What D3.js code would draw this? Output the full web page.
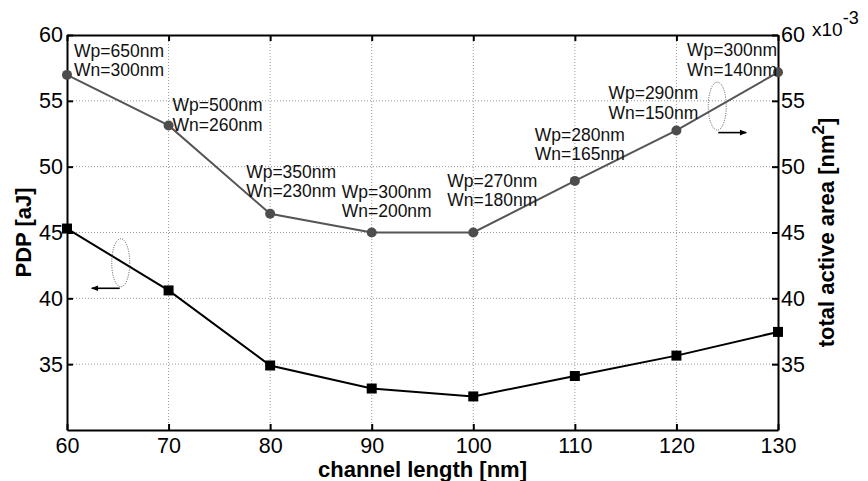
<!DOCTYPE html>
<html><head><meta charset="utf-8">
<script src="https://cdn.jsdelivr.net/npm/d3@7"></script>
<style>
body{margin:0;background:#fff;}
text{font-family:"Liberation Sans",Arial,sans-serif;}
</style></head>
<body><svg id="chart" width="868" height="481"></svg>
<script>
const channelLength = [60, 70, 80, 90, 100, 110, 120, 130];
const pdp = [45.3, 40.6, 34.9, 33.15, 32.55, 34.1, 35.65, 37.45];
const area = [56.97, 53.13, 46.42, 45.0, 45.0, 48.92, 52.75, 57.17]; // x10^-3 nm^2
const wpLabels = ["Wp=650nm","Wp=500nm","Wp=350nm","Wp=300nm","Wp=270nm","Wp=280nm","Wp=290nm","Wp=300nm"];
const wnLabels = ["Wn=300nm","Wn=260nm","Wn=230nm","Wn=200nm","Wn=180nm","Wn=165nm","Wn=150nm","Wn=140nm"];
const xTicks = [60, 70, 80, 90, 100, 110, 120, 130];
const yTicks = [35, 40, 45, 50, 55, 60];
// label offsets relative to each area point (px)
const labelOffsets = [[7,-18],[4,-14],[-24,-36],[-30,-35],[-26,-46],[-40,-40],[-68,-31],[-91,-16]];

const svg = d3.select("#chart");
const m = {left:67, right:778, top:35, bottom:430};
const x = d3.scaleLinear().domain([60,130]).range([m.left, m.right]);
const yL = d3.scaleLinear().domain([30,60]).range([m.bottom, m.top]);
const yR = d3.scaleLinear().domain([30,60]).range([m.bottom, m.top]);

// grid
const grid = svg.append("g").attr("stroke","#9a9a9a").attr("stroke-width",1).attr("stroke-dasharray","1,2");
xTicks.filter(t=>t>60&&t<130).forEach(t=>{
  grid.append("line").attr("x1",x(t)).attr("x2",x(t)).attr("y1",m.top).attr("y2",m.bottom);
});
yTicks.filter(t=>t<60).forEach(t=>{
  grid.append("line").attr("x1",m.left).attr("x2",m.right).attr("y1",yL(t)).attr("y2",yL(t));
});

// axes
const fs = "21.5px";
const ax = svg.append("g");
const axB = d3.axisBottom(x).tickValues(xTicks).tickSizeInner(-6).tickSizeOuter(0).tickPadding(7.5);
const gB = ax.append("g").attr("transform",`translate(0,${m.bottom})`).call(axB);
const axT = d3.axisTop(x).tickValues(xTicks).tickSizeInner(-6).tickSizeOuter(0).tickFormat("");
const gT = ax.append("g").attr("transform",`translate(0,${m.top})`).call(axT);
const axL = d3.axisLeft(yL).tickValues(yTicks).tickSizeInner(-6).tickSizeOuter(0).tickPadding(4);
const gL = ax.append("g").attr("transform",`translate(${m.left},0)`).call(axL);
const axR = d3.axisRight(yR).tickValues(yTicks).tickSizeInner(-6).tickSizeOuter(0).tickPadding(3);
const gR = ax.append("g").attr("transform",`translate(${m.right},0)`).call(axR);
[gB,gT,gL,gR].forEach(g=>{
  g.select(".domain").attr("stroke","#000").attr("stroke-width",2);
  g.selectAll(".tick line").attr("stroke","#000").attr("stroke-width",2);
  g.selectAll(".tick text").attr("fill","#000").style("font-size",fs).style("font-family","'Liberation Sans',Arial,sans-serif");
});

// exponent
const ex = svg.append("text").attr("x",812).attr("y",36).style("font-size","19px").attr("fill","#000");
ex.append("tspan").text("x10");
ex.append("tspan").attr("dy",-12).style("font-size","18px").text("-3");

// area line (grey)
const areaLine = d3.line().x((d,i)=>x(channelLength[i])).y(d=>yR(d));
svg.append("path").datum(area).attr("d",areaLine).attr("fill","none").attr("stroke","#555").attr("stroke-width",2);
svg.append("g").selectAll("circle").data(area).join("circle")
  .attr("cx",(d,i)=>x(channelLength[i])).attr("cy",d=>yR(d)).attr("r",5).attr("fill","#4d4d4d");

// pdp line (black)
const pdpLine = d3.line().x((d,i)=>x(channelLength[i])).y(d=>yL(d));
svg.append("path").datum(pdp).attr("d",pdpLine).attr("fill","none").attr("stroke","#000").attr("stroke-width",2);
svg.append("g").selectAll("rect").data(pdp).join("rect")
  .attr("x",(d,i)=>x(channelLength[i])-5).attr("y",d=>yL(d)-5).attr("width",10).attr("height",10).attr("fill","#000");

// annotations
const ann = svg.append("g").style("font-size","17.5px").attr("fill","#111");
area.forEach((d,i)=>{
  const px = x(channelLength[i]) + labelOffsets[i][0];
  const py = yR(d) + labelOffsets[i][1];
  ann.append("text").attr("x",px).attr("y",py).text(wpLabels[i]);
  ann.append("text").attr("x",px).attr("y",py+19.5).text(wnLabels[i]);
});

// ellipses + arrows
const defs = svg.append("defs");
defs.append("marker").attr("id","arr").attr("viewBox","0 0 10 10").attr("refX",9).attr("refY",5)
  .attr("markerWidth",10).attr("markerHeight",7).attr("markerUnits","userSpaceOnUse").attr("orient","auto")
  .append("path").attr("d","M0,1 L10,5 L0,9 Z").attr("fill","#000");
function annot(cxv, cyv, dirX, arrowDy){
  const cx = x(cxv), cy = yL(cyv);
  svg.append("ellipse").attr("cx",cx).attr("cy",cy).attr("rx",9).attr("ry",24)
    .attr("fill","none").attr("stroke","#555").attr("stroke-width",1).attr("stroke-dasharray","1,1.3");
  svg.append("line").attr("x1",cx+dirX*1).attr("y1",cy+arrowDy).attr("x2",cx+dirX*29).attr("y2",cy+arrowDy)
    .attr("stroke","#000").attr("stroke-width",1.6).attr("marker-end","url(#arr)");
}
annot(65.29, 42.7, -1, 25.5);
annot(124.02, 54.6, 1, 26.5);

// axis titles
svg.append("text").attr("x",(m.left+m.right)/2).attr("y",477).attr("text-anchor","middle")
  .style("font-size","22px").style("font-weight","bold").text("channel length [nm]");
svg.append("text").attr("transform",`translate(31,${(m.top+m.bottom)/2}) rotate(-90)`).attr("text-anchor","middle")
  .style("font-size","22px").style("font-weight","bold").text("PDP [aJ]");
const rt = svg.append("text").attr("transform",`translate(834,${(m.top+m.bottom)/2}) rotate(-90)`).attr("text-anchor","middle")
  .style("font-size","22px").style("font-weight","bold");
rt.append("tspan").text("total active area [nm");
rt.append("tspan").attr("dy",-10).style("font-size","17px").text("2");
rt.append("tspan").attr("dy",10).text("]");
</script></body></html>
